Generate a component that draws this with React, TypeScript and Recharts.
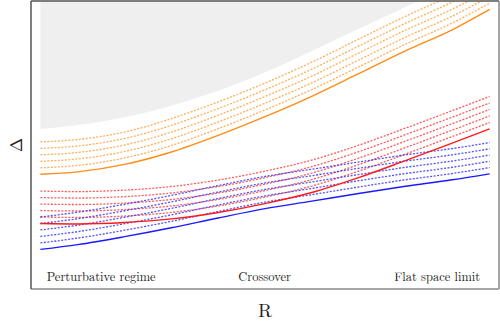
import React from 'react';
import { ComposedChart, Line, Area, XAxis, YAxis, ReferenceDot, ReferenceLine, Label } from 'recharts';

const Y_MAX = 12;
const X_MAX = 10;
const R_VALUES = [0.2, 1, 2, 3, 4, 5, 6, 7, 8, 9, 9.8];

const orangeSolid = [4.78, 4.88, 5.19, 5.71, 6.40, 7.18, 8.03, 8.97, 9.92, 10.80, 11.65];
const orange1 = [5.05, 5.15, 5.46, 5.98, 6.68, 7.46, 8.31, 9.25, 10.20, 11.08, 11.91];
const orange2 = [5.32, 5.42, 5.73, 6.26, 6.96, 7.74, 8.59, 9.54, 10.49, 11.37, 12.18];
const orange3 = [5.59, 5.69, 6.00, 6.54, 7.24, 8.02, 8.87, 9.83, 10.78, 11.66, 12.45];
const orange4 = [5.86, 5.96, 6.27, 6.82, 7.52, 8.30, 9.16, 10.12, 11.07, 11.95, 12.72];
const orange5 = [6.13, 6.23, 6.54, 7.10, 7.80, 8.58, 9.45, 10.41, 11.36, 12.24, 12.99];

const redSolid = [2.73, 2.71, 2.77, 2.92, 3.19, 3.56, 4.02, 4.64, 5.35, 6.08, 6.67];
const red1 = [3.00, 2.98, 3.04, 3.19, 3.46, 3.83, 4.29, 4.91, 5.62, 6.35, 6.94];
const red2 = [3.27, 3.25, 3.31, 3.46, 3.73, 4.10, 4.56, 5.18, 5.89, 6.62, 7.21];
const red3 = [3.54, 3.52, 3.58, 3.73, 4.00, 4.37, 4.83, 5.45, 6.16, 6.89, 7.48];
const red4 = [3.81, 3.79, 3.85, 4.00, 4.27, 4.64, 5.10, 5.72, 6.43, 7.16, 7.75];
const red5 = [4.08, 4.06, 4.12, 4.27, 4.54, 4.91, 5.37, 5.99, 6.70, 7.43, 8.02];

const blueSolid = [1.65, 1.85, 2.18, 2.55, 2.96, 3.35, 3.66, 3.98, 4.28, 4.55, 4.80];
const blue1 = [1.92, 2.12, 2.45, 2.82, 3.23, 3.62, 3.93, 4.25, 4.55, 4.81, 5.06];
const blue2 = [2.19, 2.39, 2.72, 3.09, 3.50, 3.88, 4.19, 4.51, 4.81, 5.07, 5.32];
const blue3 = [2.46, 2.66, 2.99, 3.36, 3.77, 4.15, 4.46, 4.77, 5.07, 5.33, 5.58];
const blue4 = [2.73, 2.93, 3.26, 3.63, 4.04, 4.42, 4.72, 5.03, 5.33, 5.59, 5.84];
const blue5 = [3.00, 3.20, 3.53, 3.90, 4.31, 4.69, 4.99, 5.29, 5.59, 5.85, 6.10];

const GRAY_R = [0.2, 1, 2, 3, 4, 5, 6, 7, 8, 8.27];
const grayEdge = [6.67, 6.83, 7.16, 7.64, 8.26, 9.03, 9.92, 10.83, 11.75, 12.0];

const regimeLabels = ['Perturbative regime', 'Crossover', 'Flat space limit'];
const regimeR = [1.5, 4.99, 8.68];
const regimeY = 0.5;

const series = [
  { key: 'orangeSolid', values: orangeSolid, color: '#ff8c14', dotted: false },
  { key: 'orange1', values: orange1, color: '#ff9a30', dotted: true },
  { key: 'orange2', values: orange2, color: '#ff9a30', dotted: true },
  { key: 'orange3', values: orange3, color: '#ff9a30', dotted: true },
  { key: 'orange4', values: orange4, color: '#ff9a30', dotted: true },
  { key: 'orange5', values: orange5, color: '#ff9a30', dotted: true },
  { key: 'red1', values: red1, color: '#ff3030', dotted: true },
  { key: 'red2', values: red2, color: '#ff3030', dotted: true },
  { key: 'red3', values: red3, color: '#ff3030', dotted: true },
  { key: 'red4', values: red4, color: '#ff3030', dotted: true },
  { key: 'red5', values: red5, color: '#ff3030', dotted: true },
  { key: 'blue1', values: blue1, color: '#2828ff', dotted: true },
  { key: 'blue2', values: blue2, color: '#2828ff', dotted: true },
  { key: 'blue3', values: blue3, color: '#2828ff', dotted: true },
  { key: 'blue4', values: blue4, color: '#2828ff', dotted: true },
  { key: 'blue5', values: blue5, color: '#2828ff', dotted: true },
  { key: 'redSolid', values: redSolid, color: '#ff1a1a', dotted: false },
  { key: 'blueSolid', values: blueSolid, color: '#1a1aff', dotted: false },
];

const rowsMap: Record<string, any> = {};
R_VALUES.forEach((r, i) => {
  const row: any = rowsMap[r] || { R: r };
  series.forEach((s) => { row[s.key] = s.values[i]; });
  rowsMap[r] = row;
});
GRAY_R.forEach((r, i) => {
  const row: any = rowsMap[r] || { R: r };
  row.gray = [grayEdge[i], Y_MAX];
  rowsMap[r] = row;
});
const data = Object.values(rowsMap).sort((a: any, b: any) => a.R - b.R);

const FONT = '"Latin Modern Roman", "Liberation Serif", "DejaVu Serif", serif';

export default function App() {
  return (
    <div style={{ position: 'absolute', left: 0, top: 0, width: 500, height: 322, background: '#fff' }}>
      <ComposedChart
        width={500}
        height={322}
        data={data}
        margin={{ top: 1, right: 1, bottom: 0, left: 0 }}
        style={{ fontFamily: FONT }}
      >
        <XAxis
          dataKey="R"
          type="number"
          domain={[0, X_MAX]}
          allowDataOverflow
          tick={false}
          tickLine={false}
          height={33}
          axisLine={{ stroke: '#8a8a8a', strokeWidth: 1.5 }}
        >
          <Label value="R" position="insideBottom" offset={5} fill="#222" fontSize={19} fontFamily={FONT} />
        </XAxis>
        <YAxis
          type="number"
          domain={[0, Y_MAX]}
          allowDataOverflow
          tick={false}
          tickLine={false}
          width={31}
          axisLine={{ stroke: '#555', strokeWidth: 1.5 }}
        >
          <Label value="Δ" position="center" angle={-90} fill="#222" fontSize={17} fontFamily={FONT} />
        </YAxis>
        <Area
          dataKey="gray"
          type="monotone"
          fill="#efefef"
          fillOpacity={1}
          stroke="none"
          connectNulls
          isAnimationActive={false}
          activeDot={false}
        />
        {series.map((s) => (
          <Line
            key={s.key}
            dataKey={s.key}
            type="monotone"
            stroke={s.color}
            strokeWidth={s.dotted ? 1.3 : 1.4}
            strokeDasharray={s.dotted ? '2 1.5' : undefined}
            strokeOpacity={s.dotted ? 0.8 : 1}
            dot={false}
            activeDot={false}
            connectNulls
            isAnimationActive={false}
          />
        ))}
        <ReferenceLine y={Y_MAX} stroke="#555" strokeWidth={1.5} />
        <ReferenceLine x={X_MAX} stroke="#8a8a8a" strokeWidth={1.5} />
        {regimeLabels.map((t, i) => (
          <ReferenceDot
            key={t}
            x={regimeR[i]}
            y={regimeY}
            r={0}
            fill="none"
            stroke="none"
            label={{ value: t, position: 'center', fill: '#222', fontSize: 12.5, fontFamily: FONT }}
          />
        ))}
      </ComposedChart>
    </div>
  );
}
